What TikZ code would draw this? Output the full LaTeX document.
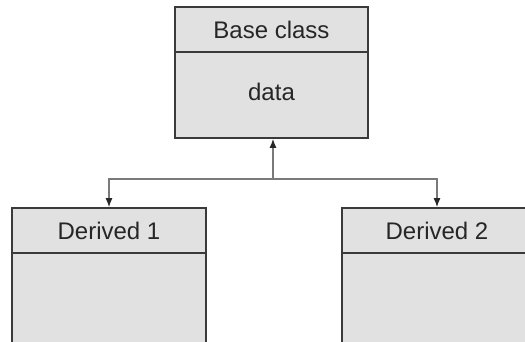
\documentclass[tikz,border=0pt]{standalone}
\usepackage{fontspec}
\setmainfont{Liberation Sans}
\usetikzlibrary{arrows.meta}
\definecolor{boxfill}{HTML}{E1E1E1}
\definecolor{boxline}{HTML}{3A3A3A}
\definecolor{conn}{HTML}{7A7A7A}
\begin{document}
\begin{tikzpicture}[x=1pt,y=-1pt,
  part/.style={draw=boxline,fill=boxfill,line width=1.8pt,rectangle,inner sep=0pt,
    font=\fontsize{24}{27}\selectfont,text=black!85},
  conline/.style={draw=conn,line width=1.1pt},
  tip/.style={-{Latex[length=9pt,width=7pt,color=black!85]}}]
\useasboundingbox (0,0) rectangle (525,341);
\clip (0,0) rectangle (525,341);
% Base class
\node[part,minimum width=193pt,minimum height=86pt] (bbody) at (271.5,95) {};
\node at (271.5,92) [font=\fontsize{24}{27}\selectfont,text=black!85] (bdata) {data};
\node[part,minimum width=193pt,minimum height=45pt] (bhead) at (271.5,29.5) {Base class};
% Derived 1
\node[part,minimum width=194pt,minimum height=100pt] (d1body) at (109,303) {};
\node[part,minimum width=194pt,minimum height=45pt] (d1) at (109,230.5) {Derived 1};
% Derived 2
\node[part,minimum width=190pt,minimum height=100pt] (d2body) at (437,303) {};
\node[part,minimum width=190pt,minimum height=45pt] (d2) at (437,230.5) {Derived 2};
% connectors
\coordinate (j) at (273,179);
\draw[conline,tip] (j) -- (bbody.south -| j);
\draw[conline,tip] (j) -| (d1.north);
\draw[conline,tip] (j) -| (d2.north);
\end{tikzpicture}
\end{document}
